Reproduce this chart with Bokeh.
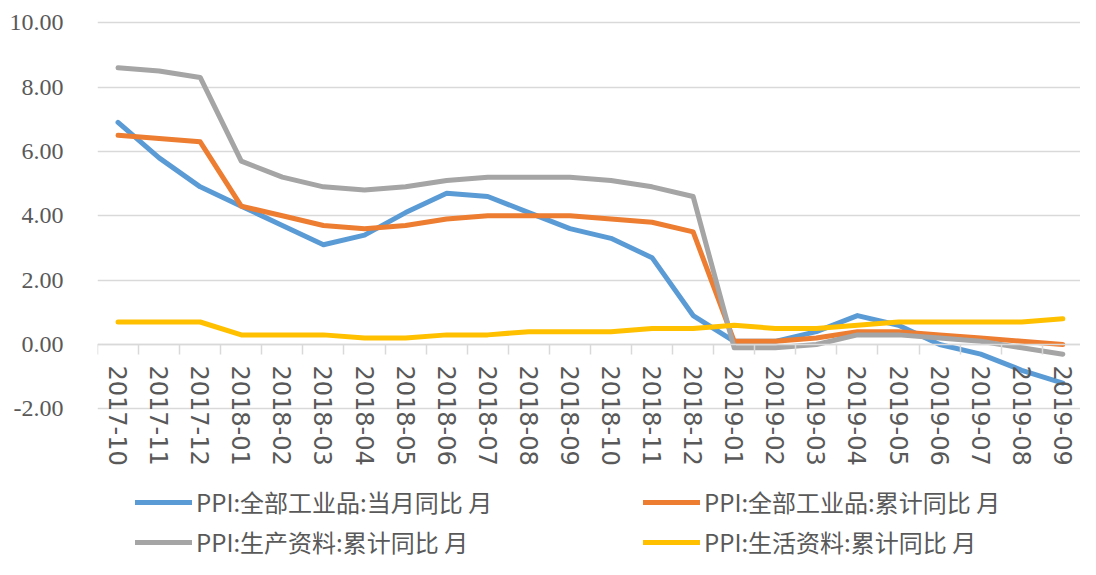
from bokeh.plotting import figure
from bokeh.models import FixedTicker, PrintfTickFormatter, Legend, LegendItem, Range1d
from bokeh.embed import file_html
from bokeh.resources import INLINE

months = ["2017-10", "2017-11", "2017-12",
          "2018-01", "2018-02", "2018-03", "2018-04", "2018-05", "2018-06",
          "2018-07", "2018-08", "2018-09", "2018-10", "2018-11", "2018-12",
          "2019-01", "2019-02", "2019-03", "2019-04", "2019-05", "2019-06",
          "2019-07", "2019-08", "2019-09"]

ppi_month = [6.9, 5.8, 4.9, 4.3, 3.7, 3.1, 3.4, 4.1, 4.7, 4.6, 4.1, 3.6,
             3.3, 2.7, 0.9, 0.1, 0.1, 0.4, 0.9, 0.6, 0.0, -0.3, -0.8, -1.2]
ppi_cum = [6.5, 6.4, 6.3, 4.3, 4.0, 3.7, 3.6, 3.7, 3.9, 4.0, 4.0, 4.0,
           3.9, 3.8, 3.5, 0.1, 0.1, 0.2, 0.4, 0.4, 0.3, 0.2, 0.1, 0.0]
prod_cum = [8.6, 8.5, 8.3, 5.7, 5.2, 4.9, 4.8, 4.9, 5.1, 5.2, 5.2, 5.2,
            5.1, 4.9, 4.6, -0.1, -0.1, 0.0, 0.3, 0.3, 0.2, 0.1, -0.1, -0.3]
living_cum = [0.7, 0.7, 0.7, 0.3, 0.3, 0.3, 0.2, 0.2, 0.3, 0.3, 0.4, 0.4,
              0.4, 0.5, 0.5, 0.6, 0.5, 0.5, 0.6, 0.7, 0.7, 0.7, 0.7, 0.8]

y_ticks = [-2, 0, 2, 4, 6, 8, 10]

series_names = ["PPI:全部工业品:当月同比 月", "PPI:全部工业品:累计同比 月",
                "PPI:生产资料:累计同比 月", "PPI:生活资料:累计同比 月"]
colors = ["#5b9bd5", "#ed7d31", "#a5a5a5", "#ffc000"]

xs = list(range(len(months)))

p = figure(width=1080, height=559, output_backend="svg", toolbar_location=None,
           x_range=Range1d(-0.5, 23.43), y_range=Range1d(-6.68, 10.1),
           min_border_left=97, min_border_right=0, min_border_top=19,
           min_border_bottom=0, title_location=None)
p.outline_line_color = None
p.background_fill_color = "white"
p.border_fill_color = "white"

# grid
p.xgrid.visible = False
p.ygrid.ticker = FixedTicker(ticks=y_ticks)
p.ygrid.grid_line_color = "#d9d9d9"
p.ygrid.grid_line_width = 1.5

# y axis
p.yaxis.ticker = FixedTicker(ticks=y_ticks)
p.yaxis.formatter = PrintfTickFormatter(format="%.2f")
p.yaxis.axis_line_color = None
p.yaxis.major_tick_line_color = None
p.yaxis.minor_tick_line_color = None
p.yaxis.major_tick_out = 0
p.yaxis.major_label_standoff = 34
p.yaxis.major_label_text_font = "Liberation Sans Narrow"
p.yaxis.major_label_text_font_size = "24px"
p.yaxis.major_label_text_color = "#595959"

# x axis at y = 0
p.xaxis.fixed_location = 0
boundaries = [i - 0.5 for i in range(len(months) + 1)]
p.xaxis.ticker = FixedTicker(ticks=xs, minor_ticks=boundaries)
p.xaxis.major_label_overrides = {i: m for i, m in enumerate(months)}
p.xaxis.major_label_orientation = "vertical"
p.xaxis.axis_line_color = "#d9d9d9"
p.xaxis.axis_line_width = 1.5
p.xaxis.major_tick_line_color = None
p.xaxis.major_tick_out = 0
p.xaxis.major_tick_in = 0
p.xaxis.minor_tick_line_color = "#d9d9d9"
p.xaxis.minor_tick_line_width = 1.5
p.xaxis.minor_tick_out = 10
p.xaxis.minor_tick_in = 0
p.xaxis.major_label_standoff = 11
p.xaxis.major_label_text_font = "DejaVu Sans"
p.xaxis.major_label_text_font_size = "24px"
p.xaxis.major_label_text_color = "#595959"

renderers = []
for vals, c in zip([ppi_month, ppi_cum, prod_cum, living_cum], colors):
    r = p.line(xs, vals, line_color=c, line_width=5,
               line_cap="round", line_join="round")
    renderers.append(r)

def make_legend(items, x):
    lg = Legend(items=items, location=(x, 0), orientation="vertical",
                padding=0, margin=0, spacing=5,
                border_line_color=None, background_fill_alpha=0,
                glyph_width=57, glyph_height=20, label_height=24,
                label_standoff=4,
                label_text_font="Noto Sans CJK SC",
                label_text_font_size="24px",
                label_text_color="#595959")
    return lg

lg1 = make_legend([LegendItem(label=series_names[0], renderers=[renderers[0]]),
                   LegendItem(label=series_names[2], renderers=[renderers[2]])], 38)
lg2 = make_legend([LegendItem(label=series_names[1], renderers=[renderers[1]]),
                   LegendItem(label=series_names[3], renderers=[renderers[3]])], 546)
p.add_layout(lg1, "center")
p.add_layout(lg2, "center")

open("out.html", "w").write(file_html(p, INLINE))
